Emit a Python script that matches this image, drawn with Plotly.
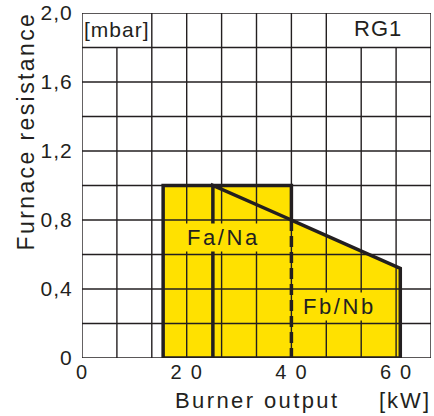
import numpy as np
import plotly.graph_objects as go

# ---- data ----
region_x = [15.5, 15.5, 40, 40, 60.8, 60.8, 15.5]
region_y = [0, 1.0, 1.0, 0.8, 0.52, 0, 0]
split_x = [25, 25, 40]
split_y = [0, 1.0, 0.8]
dash_x = [40, 40]
dash_y = [0.8, 0]
x_tickvals = [0, 20, 40, 60]
x_ticklabels = ["0", "20", "40", "60"]
y_tickvals = [0, 0.4, 0.8, 1.2, 1.6, 2.0]
y_ticklabels = ["0", "0,4", "0,8", "1,2", "1,6", "2,0"]
x_max = 200 / 3
y_max = 2.0
x_cell = 20 / 3
y_cell = 0.2

INK = "#231F20"
YEL = "#FFE100"
FONT = "Liberation Sans, Arial, sans-serif"


def sp(text, ls):
    return f'<span style="letter-spacing:{ls}px">{text}</span>'


# grid lines (top row has two label boxes without inner verticals)
gx, gy = [], []
for i in range(11):
    x = i * x_cell
    top = y_max if i not in (1, 8, 9) else y_max - y_cell
    gx += [x, x, None]
    gy += [0, top, None]
for j in range(11):
    y = j * y_cell
    gx += [0, x_max, None]
    gy += [y, y, None]

fig = go.Figure()
fig.add_trace(go.Scatter(x=region_x, y=region_y, mode="lines", fill="toself",
                         fillcolor=YEL, line=dict(width=0), hoverinfo="skip",
                         cliponaxis=False))
fig.add_trace(go.Scatter(x=gx, y=gy, mode="lines", line=dict(color=INK, width=1.4),
                         hoverinfo="skip", cliponaxis=False))
fig.add_trace(go.Scatter(x=region_x, y=region_y, mode="lines",
                         line=dict(color=INK, width=3.5), hoverinfo="skip",
                         cliponaxis=False))
fig.add_trace(go.Scatter(x=split_x, y=split_y, mode="lines",
                         line=dict(color=INK, width=3.5), hoverinfo="skip",
                         cliponaxis=False))
fig.add_trace(go.Scatter(x=dash_x, y=dash_y, mode="lines",
                         line=dict(color=INK, width=3.5, dash="11px,5px"),
                         hoverinfo="skip", cliponaxis=False))


def note(text, x, y, size, ref="paper", angle=0, bg=None):
    d = dict(text=text, xref=ref, yref=ref, x=x, y=y, textangle=angle,
             showarrow=False, xanchor="center", yanchor="middle",
             font=dict(size=size, color=INK, family=FONT))
    if bg:
        d.update(bgcolor=bg, borderpad=1)
    return d


ann = [
    note(sp("Furnace resistance", 2.4), -0.16, 0.657, 23, angle=-90),
    note(sp("Burner output", 2.4), 0.504, -0.122, 22),
    note(sp("[kW]", 2), 0.926, -0.122, 22),
    note(sp("[mbar]", 1), 0.1003, 0.951, 21),
    note(sp("RG1", 1), 0.848, 0.954, 22),
    note(sp("Fa/Na", 2.6), 27.0, 0.70, 22, ref="x", bg=YEL),
    note(sp("Fb/Nb", 2.6), 49.2, 0.30, 22, ref="x", bg=YEL),
]
for a in ann[-2:]:
    a["yref"] = "y"

fig.update_layout(
    width=434, height=416,
    margin=dict(l=82, r=3, t=13, b=58),
    paper_bgcolor="white", plot_bgcolor="white",
    showlegend=False,
    annotations=ann,
    font=dict(family=FONT, color=INK),
    xaxis=dict(range=[0, x_max], showgrid=False, zeroline=False, showline=False,
               tickmode="array", tickvals=x_tickvals,
               ticktext=[sp(t, 9) for t in x_ticklabels],
               ticks="", ticklabelshift=4,
               tickfont=dict(size=20, color=INK, family=FONT), fixedrange=True,
               automargin=False),
    yaxis=dict(range=[0, y_max], showgrid=False, zeroline=False, showline=False,
               tickmode="array", tickvals=y_tickvals,
               ticktext=[sp(t, 1) for t in y_ticklabels],
               ticks="outside", ticklen=4, tickcolor="rgba(0,0,0,0)",
               tickfont=dict(size=21, color=INK, family=FONT), fixedrange=True,
               automargin=False),
)

fig.write_html("out.html", config={"displayModeBar": False},
               post_script="document.body.style.margin='0';document.body.style.overflow='hidden';")
